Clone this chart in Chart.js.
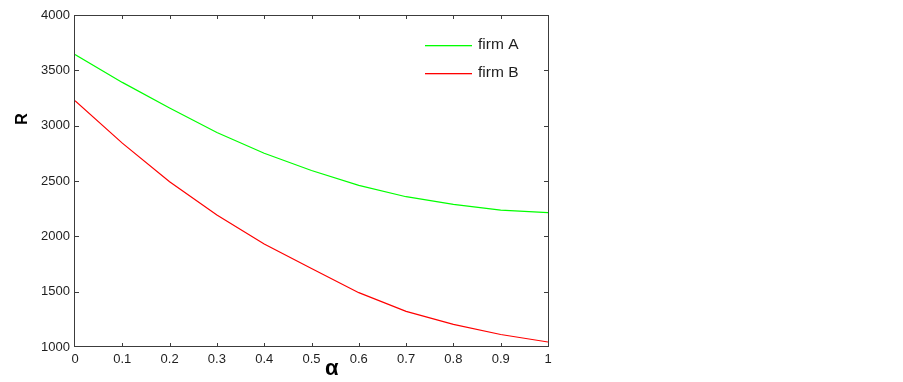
<!DOCTYPE html>
<html>
<head>
<meta charset="utf-8">
<script src="https://cdn.jsdelivr.net/npm/chart.js@4/dist/chart.umd.min.js"></script>
<style>
  html, body { margin: 0; padding: 0; background: #ffffff; }
  #wrap { width: 903px; height: 382px; }
</style>
</head>
<body>
<div id="wrap"><canvas id="c" width="903" height="382"></canvas></div>
<script>
// ---- data ----
const alphaValues = [0, 0.1, 0.2, 0.3, 0.4, 0.5, 0.6, 0.7, 0.8, 0.9, 1.0];
const firmA = [3642, 3391, 3160, 2938, 2751, 2595, 2461, 2358, 2289, 2237, 2214];
const firmB = [3225, 2842, 2494, 2192, 1930, 1710, 1491, 1322, 1204, 1113, 1045];
const seriesNames = ["firm A", "firm B"];
const seriesColors = ["rgb(0,255,0)", "rgb(255,0,0)"];
const xTickLabels = ["0", "0.1", "0.2", "0.3", "0.4", "0.5", "0.6", "0.7", "0.8", "0.9", "1"];
const yTickValues = [1000, 1500, 2000, 2500, 3000, 3500, 4000];
const xTitle = "\u03B1";
const yTitle = "R";

const FRAME = "#3c3c3c";
const TEXT = "#1e1e1e";

function toPoints(xs, ys) { return xs.map((x, i) => ({ x: x, y: ys[i] })); }

const decorPlugin = {
  id: "decor",
  afterDatasetsDraw(chart) {
    const { ctx, chartArea: a, scales } = chart;
    const xs = scales.x, ys = scales.y;
    ctx.save();
    // box frame
    ctx.strokeStyle = FRAME;
    ctx.lineWidth = 1;
    ctx.strokeRect(Math.round(a.left) - 0.5, Math.round(a.top) + 0.5,
                   Math.round(a.right - a.left) + 1, Math.round(a.bottom - a.top) - 1);
    // inward ticks
    const tl = 4;
    ctx.beginPath();
    xs.ticks.forEach(t => {
      const px = Math.round(xs.getPixelForValue(t.value)) + 0.5;
      if (px < a.left + 2 || px > a.right - 2) return;
      ctx.moveTo(px, a.bottom); ctx.lineTo(px, a.bottom - tl);
      ctx.moveTo(px, a.top); ctx.lineTo(px, a.top + tl);
    });
    ys.ticks.forEach(t => {
      const py = Math.round(ys.getPixelForValue(t.value)) + 0.5;
      if (py < a.top + 2 || py > a.bottom - 2) return;
      ctx.moveTo(a.left, py); ctx.lineTo(a.left + tl, py);
      ctx.moveTo(a.right, py); ctx.lineTo(a.right - tl, py);
    });
    ctx.stroke();

    // legend sample lines (inside plot, top right)
    seriesNames.forEach((name, i) => {
      const y = Math.round(a.top + 29.5 + i * 28.5);
      ctx.fillStyle = seriesColors[i];
      ctx.fillRect(a.right - 123, y, 47, 1.3);
    });

    // axis titles
    ctx.fillStyle = "#000";
    ctx.textAlign = "center";
    ctx.textBaseline = "middle";
    ctx.font = "bold 22px 'Liberation Sans', Arial, sans-serif";
    ctx.fillText(xTitle, a.left + (a.right - a.left) * 0.543, a.bottom + 22);
    ctx.save();
    ctx.translate(a.left - 52, a.top + (a.bottom - a.top) * 0.313);
    ctx.rotate(-Math.PI / 2);
    ctx.font = "bold 16px 'Liberation Sans', Arial, sans-serif";
    ctx.fillText(yTitle, 0, 0);
    ctx.restore();

    // legend labels
    ctx.font = "15.5px 'Liberation Sans', Arial, sans-serif";
    ctx.textAlign = "left";
    ctx.textBaseline = "middle";
    ctx.fillStyle = TEXT;
    seriesNames.forEach((name, i) => {
      const y = a.top + 29.5 + i * 28.5;
      ctx.fillText(name, a.right - 70, y);
    });
    ctx.restore();
  }
};

new Chart(document.getElementById("c"), {
  type: "line",
  data: {
    datasets: [
      { label: seriesNames[0], data: toPoints(alphaValues, firmA), borderColor: seriesColors[0],
        borderWidth: 1.2, pointRadius: 0, tension: 0, fill: false },
      { label: seriesNames[1], data: toPoints(alphaValues, firmB), borderColor: seriesColors[1],
        borderWidth: 1.2, pointRadius: 0, tension: 0, fill: false }
    ]
  },
  options: {
    responsive: false,
    animation: false,
    events: [],
    layout: { padding: { left: 0, top: 15, right: 355, bottom: 0 } },
    plugins: { legend: { display: false }, tooltip: { enabled: false }, title: { display: false } },
    scales: {
      x: {
        type: "linear", min: 0, max: 1,
        afterFit(s) { s.height = 35; },
        afterBuildTicks(s) { s.ticks = alphaValues.map(v => ({ value: v })); },
        grid: { display: false, drawTicks: false },
        border: { display: false },
        ticks: {
          padding: 5, color: TEXT, maxRotation: 0, autoSkip: false,
          font: { family: "'Liberation Sans', Arial, sans-serif", size: 13 },
          callback: (v, i) => xTickLabels[i]
        }
      },
      y: {
        type: "linear", min: 1000, max: 4000,
        afterFit(s) { s.width = 75; },
        afterBuildTicks(s) { s.ticks = yTickValues.map(v => ({ value: v })); },
        grid: { display: false, drawTicks: false },
        border: { display: false },
        ticks: {
          padding: 5, color: TEXT, autoSkip: false,
          font: { family: "'Liberation Sans', Arial, sans-serif", size: 13 },
          callback: v => String(v)
        }
      }
    }
  },
  plugins: [decorPlugin]
});
</script>
</body>
</html>
